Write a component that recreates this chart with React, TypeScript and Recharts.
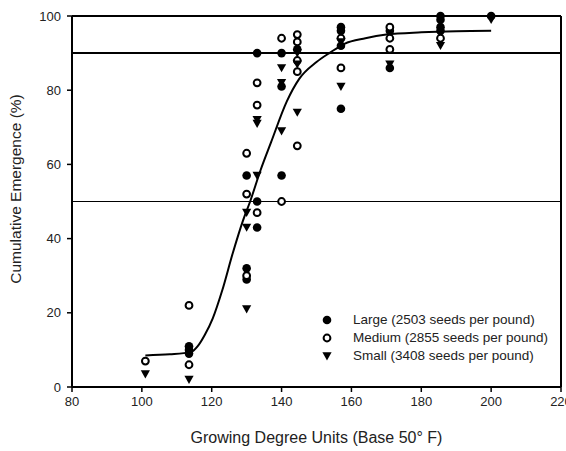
import { ScatterChart, Scatter, XAxis, YAxis, ReferenceLine, Legend } from "recharts";

// Growing degree units (x) vs cumulative emergence % (y)
const large: [number, number][] = [
  [113.5, 11], [113.5, 10], [113.5, 9],
  [130, 57], [130, 32], [130, 29],
  [133, 90], [133, 50], [133, 43],
  [140, 90], [140, 81], [140, 57],
  [144.5, 91],
  [157, 97], [157, 96], [157, 92], [157, 75],
  [171, 96], [171, 86],
  [185.5, 100], [185.5, 99], [185.5, 97], [185.5, 96],
  [200, 100],
];

const medium: [number, number][] = [
  [101, 7],
  [113.5, 22], [113.5, 6],
  [130, 63], [130, 52], [130, 30],
  [133, 82], [133, 76], [133, 47],
  [140, 94], [140, 50],
  [144.5, 95], [144.5, 93], [144.5, 88], [144.5, 85], [144.5, 65],
  [157, 94], [157, 86],
  [171, 97], [171, 94], [171, 91],
  [185.5, 94],
];

const small: [number, number][] = [
  [101, 3.5],
  [113.5, 2],
  [130, 47], [130, 43], [130, 21],
  [133, 72], [133, 71], [133, 57],
  [140, 86], [140, 82], [140, 69],
  [144.5, 90], [144.5, 87], [144.5, 74],
  [157, 93], [157, 81],
  [171, 87],
  [185.5, 92],
  [200, 99],
];

// fitted curve
const fitted: [number, number][] = [
  [101, 8.5], [108, 8.8], [114, 9.4], [116, 11], [118, 14], [120.3, 18.5],
  [123, 26], [126, 36], [129, 45], [131, 50], [134, 58.5], [137, 66],
  [141.5, 77], [145, 83], [150, 87.6], [154, 90.2], [158, 92.5], [164, 94],
  [170, 95], [180, 95.6], [190, 95.9], [200, 96],
];

const xTicks = [80, 100, 120, 140, 160, 180, 200, 220];
const yTicks = [0, 20, 40, 60, 80, 100];

const legendLabels = [
  "Large (2503 seeds per pound)",
  "Medium (2855 seeds per pound)",
  "Small (3408 seeds per pound)",
];

const toPoints = (rows: [number, number][]) => rows.map(([x, y]) => ({ x, y }));

const FONT = "'Liberation Sans', Arial, sans-serif";

const Dot = (p: any) => <circle cx={p.cx} cy={p.cy} r={4.3} fill="#000" />;
const Ring = (p: any) => (
  <circle cx={p.cx} cy={p.cy} r={3.4} fill="#fff" stroke="#000" strokeWidth={2} />
);
const Tri = (p: any) => (
  <path
    d={`M${p.cx - 4.6},${p.cy - 3.8}L${p.cx + 4.6},${p.cy - 3.8}L${p.cx},${p.cy + 4.4}Z`}
    fill="#000"
  />
);

const markers = [
  <svg width={12} height={12}><Dot cx={6} cy={6} /></svg>,
  <svg width={12} height={12}><Ring cx={6} cy={6} /></svg>,
  <svg width={12} height={12}><Tri cx={6} cy={6} /></svg>,
];

function LegendBox() {
  return (
    <div style={{ fontFamily: FONT, fontSize: 13.5, color: "#222", lineHeight: "18px" }}>
      {legendLabels.map((label, i) => (
        <div key={label} style={{ display: "flex", alignItems: "center" }}>
          <div style={{ width: 32, display: "flex", alignItems: "center" }}>{markers[i]}</div>
          <span>{label}</span>
        </div>
      ))}
    </div>
  );
}

export default function App() {
  return (
    <div style={{ position: "absolute", left: 0, top: 0, background: "#fff" }}>
      <ScatterChart width={566} height={451} margin={{ top: 16, right: 5, left: 0, bottom: 0 }}>
        <XAxis
          type="number"
          dataKey="x"
          domain={[80, 220]}
          ticks={xTicks}
          interval={0}
          axisLine={{ stroke: "#000", strokeWidth: 2 }}
          tickLine={{ stroke: "#000", strokeWidth: 1.5 }}
          tickSize={5}
          tickMargin={5}
          height={64}
          tick={{ fill: "#222", fontSize: 13, fontFamily: FONT }}
          label={{
            value: "Growing Degree Units (Base 50° F)",
            position: "insideBottom",
            offset: 8,
            style: { fill: "#222", fontSize: 16, fontFamily: FONT },
          }}
        />
        <YAxis
          type="number"
          dataKey="y"
          domain={[0, 100]}
          ticks={yTicks}
          interval={0}
          width={72}
          axisLine={{ stroke: "#000", strokeWidth: 2 }}
          tickLine={{ stroke: "#000", strokeWidth: 1.5 }}
          tickSize={5}
          tickMargin={6}
          tick={{ fill: "#222", fontSize: 13, fontFamily: FONT }}
          label={{
            content: () => (
              <text
                x={15}
                y={189}
                transform="rotate(-90 15 189)"
                textAnchor="middle"
                dominantBaseline="central"
                fill="#222"
                fontSize={15.5}
                fontFamily={FONT}
              >
                Cumulative Emergence (%)
              </text>
            ),
          }}
        />
        <ReferenceLine y={100} stroke="#000" strokeWidth={2} />
        <ReferenceLine x={220} stroke="#000" strokeWidth={2} />
        <ReferenceLine y={90} stroke="#000" strokeWidth={2} />
        <ReferenceLine y={50} stroke="#000" strokeWidth={1.2} />
        <Scatter
          name="fit"
          data={toPoints(fitted)}
          line={{ stroke: "#000", strokeWidth: 2 }}
          lineJointType="monotoneX"
          shape={() => <g />}
          legendType="none"
          isAnimationActive={false}
        />
        <Scatter name="Large" data={toPoints(large)} shape={Dot} isAnimationActive={false} />
        <Scatter name="Medium" data={toPoints(medium)} shape={Ring} isAnimationActive={false} />
        <Scatter name="Small" data={toPoints(small)} shape={Tri} isAnimationActive={false} />
        <Legend
          layout="vertical"
          align="center"
          verticalAlign="middle"
          wrapperStyle={{ left: 321, top: 311, width: 240 }}
          content={() => <LegendBox />}
        />
      </ScatterChart>
    </div>
  );
}
